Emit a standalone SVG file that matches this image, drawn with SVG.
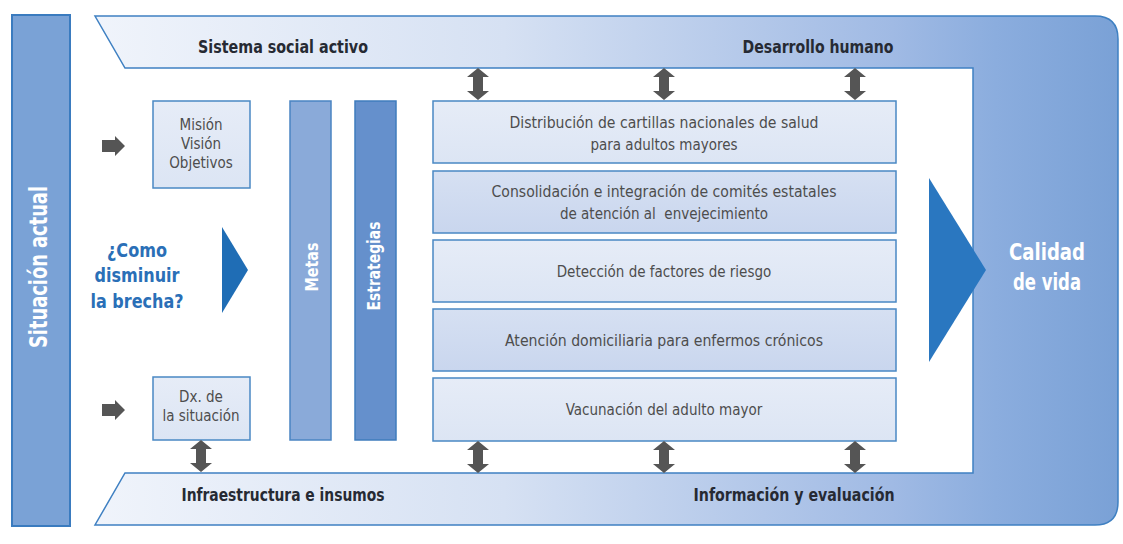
<svg xmlns="http://www.w3.org/2000/svg" width="1123" height="544" viewBox="0 0 1123 544">
<defs>
<linearGradient id="band" gradientUnits="userSpaceOnUse" x1="95" y1="0" x2="1118" y2="0">
<stop offset="0" stop-color="#f0f4fb"/>
<stop offset="0.4" stop-color="#d6e1f3"/>
<stop offset="0.78" stop-color="#a0bae4"/>
<stop offset="0.88" stop-color="#8badde"/>
<stop offset="1" stop-color="#7aa1d6"/>
</linearGradient>
<linearGradient id="boxL" x1="0" y1="0" x2="0" y2="1">
<stop offset="0" stop-color="#e6ecf7"/>
<stop offset="1" stop-color="#dce5f4"/>
</linearGradient>
<linearGradient id="boxD" x1="0" y1="0" x2="0" y2="1">
<stop offset="0" stop-color="#d6e0f2"/>
<stop offset="1" stop-color="#c9d6ee"/>
</linearGradient>
<path id="dbl" d="M0,0 L11,9 L5,9 L5,23 L11,23 L0,32 L-11,23 L-5,23 L-5,9 L-11,9 Z" fill="#555"/>
<path id="rarr" d="M0,-6 L13,-6 L13,-10 L23,0 L13,10 L13,6 L0,6 Z" fill="#555"/>
</defs>
<style>
text{font-family:"Liberation Sans Narrow","DejaVu Sans Condensed","Liberation Sans",sans-serif;}
.box{stroke:#4a88c4;stroke-width:1.5;}
.lbl{font-size:15px;fill:#4d4d4d;text-anchor:middle;}
.band{font-size:18px;font-weight:bold;fill:#262a33;text-anchor:middle;}
.white{font-weight:bold;fill:#ffffff;text-anchor:middle;}
.q{font-size:20px;font-weight:bold;fill:#2a6fb7;text-anchor:middle;}
</style>
<rect width="1123" height="544" fill="#ffffff"/>

<g id="frame">
<path d="M95,16 H1095 Q1118,16 1118,39 V502 Q1118,525 1095,525 H95 L125,473 H973 V68 H125 Z" fill="url(#band)" stroke="#3f80c2" stroke-width="1.5"/>
<text class="band" x="283" y="53" textLength="170" lengthAdjust="spacingAndGlyphs">Sistema social activo</text>
<text class="band" x="818" y="53" textLength="151" lengthAdjust="spacingAndGlyphs">Desarrollo humano</text>
<text class="band" x="283" y="501" textLength="203" lengthAdjust="spacingAndGlyphs">Infraestructura e insumos</text>
<text class="band" x="794" y="501" textLength="201" lengthAdjust="spacingAndGlyphs">Información y evaluación</text>
</g>

<g id="situacion">
<rect x="12" y="15" width="58" height="511" fill="#7aa2d6" stroke="#3a7bbf" stroke-width="2"/>
<text class="white" transform="translate(47,267) rotate(-90)" x="0" y="0" font-size="24" textLength="162" lengthAdjust="spacingAndGlyphs">Situación actual</text>
</g>

<g id="pregunta">
<text class="q" x="137" y="257" textLength="60" lengthAdjust="spacingAndGlyphs">¿Como</text>
<text class="q" x="137" y="282" textLength="85" lengthAdjust="spacingAndGlyphs">disminuir</text>
<text class="q" x="137" y="308" textLength="93" lengthAdjust="spacingAndGlyphs">la brecha?</text>
<polygon points="222,227 248,270 222,313" fill="#1f6db5"/>
</g>

<g id="mision">
<rect class="box" x="153" y="101" width="97" height="87" fill="url(#boxL)"/>
<text class="lbl" x="201" y="130" font-size="14">Misión</text>
<text class="lbl" x="201" y="149" font-size="14">Visión</text>
<text class="lbl" x="201" y="168" font-size="14">Objetivos</text>
</g>

<g id="dx">
<rect class="box" x="153" y="377" width="97" height="63" fill="url(#boxL)"/>
<text class="lbl" x="201" y="402" font-size="14">Dx. de</text>
<text class="lbl" x="201" y="421" font-size="14">la situación</text>
</g>

<g id="metas">
<rect x="290" y="101" width="41" height="339" fill="#8aaad9" stroke="#4a84c2" stroke-width="1.5"/>
<text class="white" transform="translate(318,267) rotate(-90)" font-size="17" textLength="49" lengthAdjust="spacingAndGlyphs">Metas</text>
</g>

<g id="estrategias">
<rect x="355" y="101" width="41" height="339" fill="#6590cc" stroke="#3f7cbd" stroke-width="1.5"/>
<text class="white" transform="translate(380,266) rotate(-90)" font-size="17" textLength="89" lengthAdjust="spacingAndGlyphs">Estrategias</text>
</g>

<g id="e1">
<rect class="box" x="433" y="101" width="463" height="62" fill="url(#boxL)"/>
<text class="lbl" x="664" y="128" textLength="309" lengthAdjust="spacingAndGlyphs">Distribución de cartillas nacionales de salud</text>
<text class="lbl" x="664" y="150">para adultos mayores</text>
</g>
<g id="e2">
<rect class="box" x="433" y="171" width="463" height="62" fill="url(#boxD)"/>
<text class="lbl" x="664" y="197" textLength="345" lengthAdjust="spacingAndGlyphs">Consolidación e integración de comités estatales</text>
<text class="lbl" x="664" y="219" xml:space="preserve">de atención al  envejecimiento</text>
</g>
<g id="e3">
<rect class="box" x="433" y="240" width="463" height="62" fill="url(#boxL)"/>
<text class="lbl" x="664" y="277">Detección de factores de riesgo</text>
</g>
<g id="e4">
<rect class="box" x="433" y="309" width="463" height="62" fill="url(#boxD)"/>
<text class="lbl" x="664" y="346" textLength="318" lengthAdjust="spacingAndGlyphs">Atención domiciliaria para enfermos crónicos</text>
</g>
<g id="e5">
<rect class="box" x="433" y="378" width="463" height="63" fill="url(#boxL)"/>
<text class="lbl" x="664" y="415">Vacunación del adulto mayor</text>
</g>

<g id="calidad">
<polygon points="929,178 986,270 929,362" fill="#2a77c0"/>
<text class="white" x="1047" y="260" font-size="23" textLength="76" lengthAdjust="spacingAndGlyphs">Calidad</text>
<text class="white" x="1047" y="290" font-size="23" textLength="68" lengthAdjust="spacingAndGlyphs">de vida</text>
</g>

<g id="connectors">
<use href="#rarr" x="102" y="146"/>
<use href="#rarr" x="102" y="410"/>
<use href="#dbl" x="201" y="440"/>
<use href="#dbl" x="478" y="68"/>
<use href="#dbl" x="664" y="68"/>
<use href="#dbl" x="855" y="68"/>
<use href="#dbl" x="478" y="441"/>
<use href="#dbl" x="664" y="441"/>
<use href="#dbl" x="855" y="441"/>
</g>
</svg>
